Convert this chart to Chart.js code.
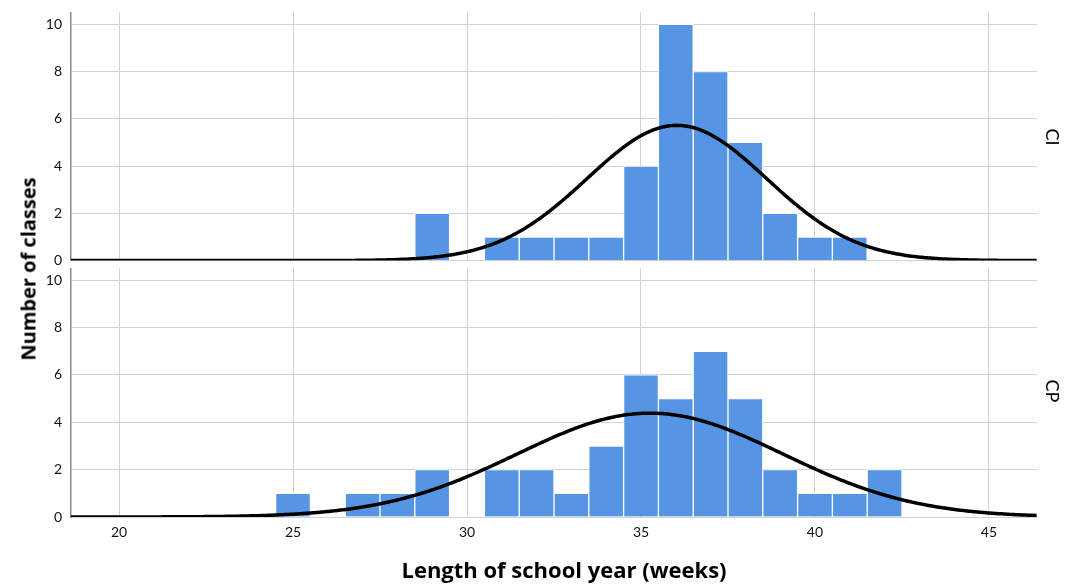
<!DOCTYPE html>
<html>
<head>
<meta charset="utf-8">
<script src="https://cdn.jsdelivr.net/npm/chart.js@4.4.1/dist/chart.umd.min.js"></script>
<style>
  html, body { margin: 0; padding: 0; background: #ffffff; }
  #wrap { position: relative; width: 1068px; height: 585px; overflow: hidden; background: #fff; }
  canvas { position: absolute; left: 0; }
  .t { position: absolute; color: #000; white-space: nowrap; line-height: 1; }
  #xtitle { font: bold 22px "Open Sans", "Liberation Sans", sans-serif; left: 564px; top: 569px; transform: translate(-50%, -50%); }
  #ytitle { font: bold 20px "Open Sans", "Liberation Sans", sans-serif; left: 28px; top: 269px; transform: translate(-50%, -50%) rotate(-90deg); }
  .panel { font: 18px "Lato", "DejaVu Sans", sans-serif; left: 1053px; transform: translate(-50%, -50%) rotate(90deg); }
</style>
</head>
<body>
<div id="wrap">
  <canvas id="top" width="1068" height="264" style="top:0px"></canvas>
  <canvas id="bot" width="1068" height="323" style="top:262px"></canvas>
  <div class="t" id="ytitle">Number of classes</div>
  <div class="t" id="xtitle">Length of school year (weeks)</div>
  <div class="t panel" id="lblCI" style="top:137px"></div>
  <div class="t panel" id="lblCP" style="top:391px"></div>
</div>
<script>
// ---- Data ----
const panelLabels = ["CI", "CP"];
const xTickValues = [20, 25, 30, 35, 40, 45];
const yTickValues = [0, 2, 4, 6, 8, 10];

// CI: bin centres (weeks) and counts
const ciWeeks  = [29, 31, 32, 33, 34, 35, 36, 37, 38, 39, 40, 41];
const ciCounts = [ 2,  1,  1,  1,  1,  4, 10,  8,  5,  2,  1,  1];

// CP: bin centres (weeks) and counts
const cpWeeks  = [25, 27, 28, 29, 31, 32, 33, 34, 35, 36, 37, 38, 39, 40, 41, 42];
const cpCounts = [ 1,  1,  1,  2,  2,  2,  1,  3,  6,  5,  7,  5,  2,  1,  1,  2];

// Fitted normal-curve parameters (mean, sd, n) as read from the overlay peaks
const ciFit = { mean: 36.03, sd: 2.58, n: 37 };
const cpFit = { mean: 35.26, sd: 3.82, n: 42 };

const X_MIN = 18.62, X_MAX = 46.38, Y_MAX = 10.5;

document.getElementById('lblCI').textContent = panelLabels[0];
document.getElementById('lblCP').textContent = panelLabels[1];

function normalCurve(fit) {
  const pts = [];
  for (let x = X_MIN; x <= X_MAX + 1e-9; x += 0.05) {
    const z = (x - fit.mean) / fit.sd;
    pts.push({ x: x, y: fit.n / (fit.sd * Math.sqrt(2 * Math.PI)) * Math.exp(-0.5 * z * z) });
  }
  return pts;
}

const GRID = '#d2d2d2';
const BAR = '#5595e3';
const TICK_FONT = { family: 'Lato, "DejaVu Sans", sans-serif', size: 14 };

function makeChart(canvasId, weeks, counts, fit, showX, areaTop, areaBottom) {
  const canvas = document.getElementById(canvasId);
  const chart = new Chart(canvas, {
    data: {
      datasets: [
        {
          type: 'line',
          data: normalCurve(fit),
          borderColor: '#000',
          borderWidth: 3.5,
          pointRadius: 0,
          fill: false,
          order: 0
        },
        {
          type: 'bar',
          data: weeks.map((w, i) => ({ x: w, y: counts[i] })),
          backgroundColor: BAR,
          borderColor: '#ffffff',
          borderWidth: { top: 1, left: 1, right: 1, bottom: 0 },
          borderSkipped: 'start',
          barPercentage: 1,
          categoryPercentage: 1,
          order: 1
        }
      ]
    },
    options: {
      responsive: false,
      maintainAspectRatio: false,
      animation: false,
      devicePixelRatio: 1,
      layout: { padding: { top: 0, bottom: showX ? 38 : 0, left: 0, right: 31 } },
      plugins: { legend: { display: false }, tooltip: { enabled: false } },
      scales: {
        x: {
          type: 'linear',
          min: X_MIN,
          max: X_MAX,
          offset: false,
          afterBuildTicks: (s) => { s.ticks = xTickValues.map(v => ({ value: v })); },
          afterFit: (s) => { s.height = showX ? 30 : 0; },
          grid: { color: GRID, lineWidth: 1, drawTicks: false, offset: false },
          border: { display: false },
          ticks: {
            display: showX,
            padding: 7,
            color: '#111',
            font: TICK_FONT,
            callback: (v) => String(v)
          }
        },
        y: {
          type: 'linear',
          min: 0,
          max: Y_MAX,
          afterBuildTicks: (s) => { s.ticks = yTickValues.map(v => ({ value: v })); },
          afterFit: (s) => { s.width = 71; },
          grid: { color: GRID, lineWidth: 1, drawTicks: false },
          border: { display: true, color: '#8a8a8a', width: 1.5 },
          ticks: {
            padding: 9,
            color: '#111',
            font: TICK_FONT,
            callback: (v) => String(v)
          }
        }
      }
    }
  });
  // place the plot area at the wanted page position
  const ca = chart.chartArea;
  const topM = ca.top, botM = chart.height - ca.bottom;
  const H = Math.round(topM + (areaBottom - areaTop) + botM);
  canvas.style.top = Math.round(areaTop - topM) + 'px';
  chart.resize(1068, H);
  return chart;
}

makeChart('top', ciWeeks, ciCounts, ciFit, false, 12, 260);
makeChart('bot', cpWeeks, cpCounts, cpFit, true, 268, 517);
</script>
</body>
</html>
